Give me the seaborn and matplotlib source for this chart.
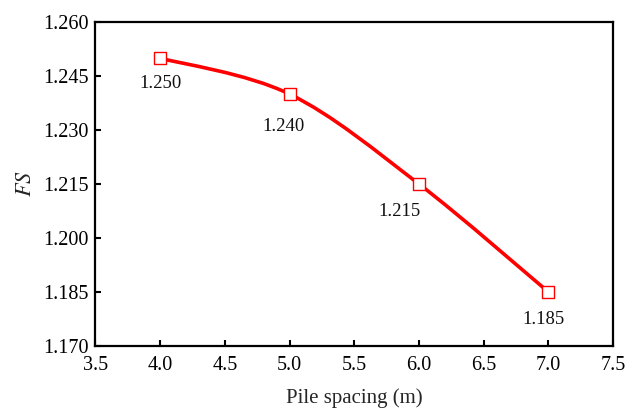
import numpy as np
import pandas as pd
import matplotlib
matplotlib.use("Agg")
import matplotlib.pyplot as plt
import seaborn as sns
from matplotlib.path import Path
from matplotlib.patches import PathPatch
from matplotlib.ticker import FormatStrFormatter, MultipleLocator

spacing = [4.0, 5.0, 6.0, 7.0]
fs_values = [1.250, 1.240, 1.215, 1.185]
value_labels = ["1.250", "1.240", "1.215", "1.185"]

sns.set_theme(style="ticks")
plt.rcParams["font.family"] = ["Liberation Serif", "DejaVu Serif"]
plt.rcParams["mathtext.fontset"] = "stix"

fig = plt.figure(figsize=(6.27, 4.09), dpi=100)
ax = fig.add_axes([0.152, 0.154, 0.826, 0.792])

df = pd.DataFrame({"x": spacing, "y": fs_values})

# smooth curve (Catmull-Rom as cubic Bezier path through the data points)
xs = np.array(spacing); ys = np.array(fs_values)
pts = np.column_stack([xs, ys])
verts = [tuple(pts[0])]
codes = [Path.MOVETO]
n = len(pts)
for i in range(n - 1):
    p0 = pts[i - 1] if i > 0 else pts[i]
    p1 = pts[i]
    p2 = pts[i + 1]
    p3 = pts[i + 2] if i + 2 < n else pts[i + 1]
    c1 = p1 + (p2 - p0) / 6.0
    c2 = p2 - (p3 - p1) / 6.0
    verts += [tuple(c1), tuple(c2), tuple(p2)]
    codes += [Path.CURVE4] * 3
patch = PathPatch(Path(verts, codes), facecolor="none", edgecolor="#ff0000",
                  lw=2.6, zorder=2, capstyle="round", joinstyle="round")
ax.add_patch(patch)

sns.scatterplot(data=df, x="x", y="y", marker="s", s=85, facecolor="white",
                edgecolor="#ff0000", linewidth=1.0, ax=ax, zorder=3)

offsets = [(0.7, -18), (-4.3, -23), (-13.7, -20), (-3.6, -20)]
for x, y, lab, off in zip(spacing, fs_values, value_labels, offsets):
    ax.annotate(lab, (x, y), xytext=off, textcoords="offset points",
                ha="center", va="center", fontsize=13.5, color="#111111")

ax.set_xlim(3.5, 7.5)
ax.set_ylim(1.170, 1.260)
ax.xaxis.set_major_locator(MultipleLocator(0.5))
ax.yaxis.set_major_locator(MultipleLocator(0.015))
ax.xaxis.set_major_formatter(FormatStrFormatter("%.1f"))
ax.yaxis.set_major_formatter(FormatStrFormatter("%.3f"))

for sp in ax.spines.values():
    sp.set_visible(True)
    sp.set_linewidth(1.6)
    sp.set_color("black")

ax.tick_params(axis="both", direction="in", length=4, width=1.5,
               labelsize=14.5, colors="black")
ax.tick_params(axis="x", pad=7)
ax.tick_params(axis="y", pad=5)
ax.tick_params(top=False, right=False)

ax.set_xlabel("Pile spacing (m)", fontsize=15, labelpad=10)
ax.set_ylabel("$\\mathit{FS}$", fontsize=16, labelpad=5)

fig.savefig("out.png", dpi=100)
